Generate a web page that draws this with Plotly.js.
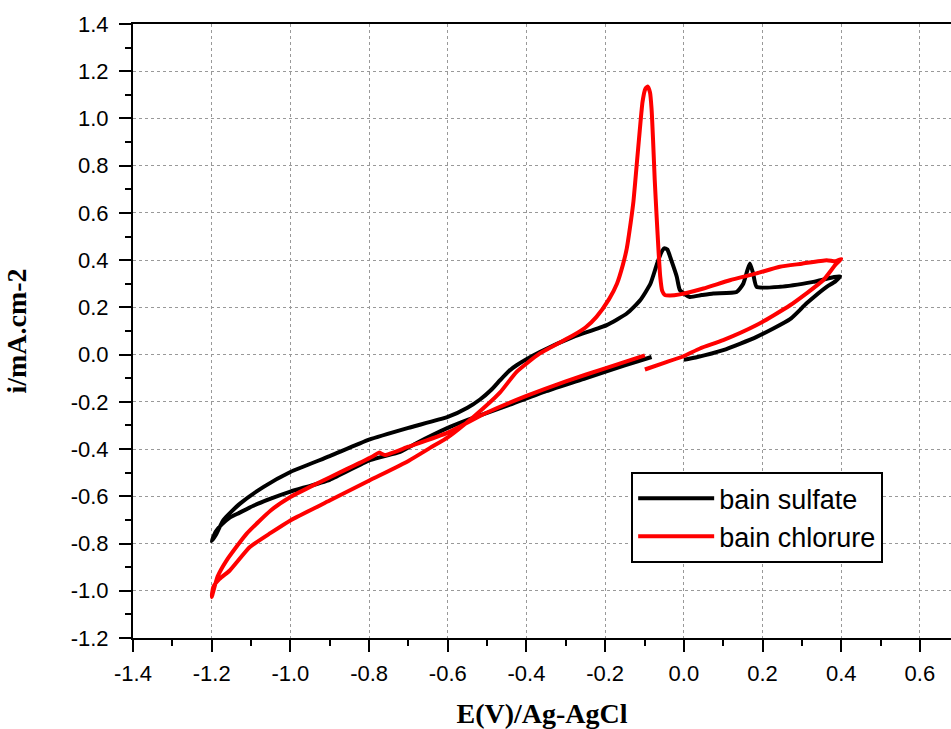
<!DOCTYPE html>
<html>
<head>
<meta charset="utf-8">
<script src="https://cdn.plot.ly/plotly-3.0.1.min.js"></script>
<style>html,body{margin:0;padding:0;background:#fff;}#chart{width:951px;height:729px;}</style>
</head>
<body>
<div id="chart"></div>
<script>
// bain sulfate (black) — potential E (V) and current i (mA.cm-2), in scan order
const sulfateE = [-0.082,-0.15,-0.25,-0.35,-0.442,-0.548,-0.60,-0.68,-0.721,-0.798,-0.90,-1.0,-1.05,-1.094,-1.13,-1.154,-1.175,-1.19,-1.2,
  -1.19,-1.17,-1.128,-1.069,-1.0,-0.9,-0.8,-0.7,-0.6,-0.55,-0.518,-0.49,-0.467,-0.445,-0.425,-0.366,-0.281,-0.196,-0.145,-0.111,-0.085,-0.069,-0.058,-0.05,-0.042,-0.032,-0.018,-0.01,0.015,0.045,0.075,0.134,0.151,0.162,0.168,0.176,0.185,0.244,0.329,0.397,
  0.385,0.363,0.312,0.27,0.185,0.1,0.03,0.0];
const sulfateI = [-0.010,-0.045,-0.10,-0.155,-0.212,-0.275,-0.31,-0.375,-0.412,-0.447,-0.53,-0.58,-0.61,-0.64,-0.67,-0.69,-0.72,-0.75,-0.79,
  -0.765,-0.70,-0.631,-0.561,-0.497,-0.43,-0.36,-0.31,-0.264,-0.225,-0.19,-0.15,-0.108,-0.07,-0.045,0.011,0.075,0.125,0.174,0.23,0.30,0.38,0.43,0.45,0.445,0.40,0.33,0.273,0.244,0.252,0.259,0.265,0.30,0.36,0.386,0.344,0.287,0.287,0.308,0.332,
  0.31,0.287,0.217,0.15,0.075,0.019,-0.012,-0.022];

// bain chlorure (red)
const chlorureE = [-0.099,-0.2,-0.3,-0.4,-0.5,-0.6,-0.7,-0.76,-0.775,-0.79,-0.857,-0.95,-1.0,-1.05,-1.111,-1.162,-1.185,-1.2,
  -1.196,-1.18,-1.154,-1.103,-1.05,-1.0,-0.899,-0.798,-0.7,-0.645,-0.599,-0.535,-0.467,-0.425,-0.366,-0.281,-0.25,-0.222,-0.19,-0.17,-0.155,-0.145,-0.135,-0.128,-0.12,-0.112,-0.105,-0.098,-0.092,-0.086,-0.082,-0.078,-0.074,-0.069,-0.064,-0.06,-0.055,-0.048,-0.035,-0.01,0.05,0.117,0.185,0.244,0.3,0.363,0.385,0.4,
  0.385,0.354,0.27,0.185,0.1,0.041,-0.001,-0.05,-0.099];
const chlorureI = [-0.003,-0.058,-0.113,-0.175,-0.245,-0.33,-0.39,-0.425,-0.415,-0.43,-0.485,-0.56,-0.603,-0.66,-0.758,-0.871,-0.94,-1.027,
  -0.984,-0.95,-0.914,-0.815,-0.755,-0.702,-0.617,-0.532,-0.45,-0.395,-0.349,-0.264,-0.16,-0.073,0.005,0.082,0.115,0.16,0.235,0.30,0.38,0.45,0.56,0.65,0.80,0.95,1.07,1.125,1.135,1.11,1.04,0.90,0.74,0.58,0.43,0.33,0.27,0.252,0.250,0.255,0.28,0.315,0.344,0.372,0.385,0.40,0.395,0.405,
  0.38,0.315,0.209,0.125,0.061,0.026,-0.007,-0.035,-0.063];

const seriesNames = ["bain sulfate", "bain chlorure"];
const xTickVals = [-1.4,-1.2,-1.0,-0.8,-0.6,-0.4,-0.2,0.0,0.2,0.4,0.6];
const xTickText = ["-1.4","-1.2","-1.0","-0.8","-0.6","-0.4","-0.2","0.0","0.2","0.4","0.6"];
const yTickVals = [-1.2,-1.0,-0.8,-0.6,-0.4,-0.2,0.0,0.2,0.4,0.6,0.8,1.0,1.2,1.4];
const yTickText = ["-1.2","-1.0","-0.8","-0.6","-0.4","-0.2","0.0","0.2","0.4","0.6","0.8","1.0","1.2","1.4"];

const traces = [
  {x: sulfateE, y: sulfateI, name: seriesNames[0], type: "scatter", mode: "lines",
   line: {color: "#000000", width: 4, shape: "spline", smoothing: 0.5}},
  {x: chlorureE, y: chlorureI, name: seriesNames[1], type: "scatter", mode: "lines",
   line: {color: "#ff0000", width: 4, shape: "spline", smoothing: 0.5}}
];

const axisCommon = {
  showline: true, linecolor: "#000", linewidth: 2,
  ticks: "outside", ticklen: 12, tickwidth: 2, tickcolor: "#000",
  showgrid: true, gridcolor: "#999", gridwidth: 1, griddash: "dot",
  zeroline: false,
  tickfont: {family: "Liberation Sans, Arial, sans-serif", size: 22, color: "#000"},
  tickmode: "array"
};

const layout = {
  width: 951, height: 729,
  margin: {l: 133, r: 0, t: 24, b: 91},
  paper_bgcolor: "#fff", plot_bgcolor: "#fff",
  showlegend: true,
  xaxis: Object.assign({}, axisCommon, {
    range: [-1.4, 0.679], tickvals: xTickVals, ticktext: xTickText, mirror: true,
    ticklabelstandoff: 3,
    minor: {tickmode: "linear", tick0: 0, dtick: 0.1, ticks: "outside", ticklen: 6, tickwidth: 2, tickcolor: "#000", showgrid: false},
    title: {text: "E(V)/Ag-AgCl", standoff: 20, font: {family: "Liberation Serif, Times New Roman, serif", size: 28, color: "#000", weight: "bold"}}
  }),
  yaxis: Object.assign({}, axisCommon, {
    range: [-1.2, 1.4], tickvals: yTickVals, ticktext: yTickText, mirror: false,
    ticklabelstandoff: 6,
    minor: {tickmode: "linear", tick0: 0, dtick: 0.1, ticks: "outside", ticklen: 6, tickwidth: 2, tickcolor: "#000", showgrid: false},
    title: {text: "i/mA.cm-2", standoff: 36, font: {family: "Liberation Serif, Times New Roman, serif", size: 28, color: "#000", weight: "bold"}}
  }),
  legend: {
    x: 0.609, y: 0.270, xanchor: "left", yanchor: "top",
    bgcolor: "#fff", bordercolor: "#000", borderwidth: 2,
    font: {family: "Liberation Sans, Arial, sans-serif", size: 27, color: "#000"},
    itemwidth: 76, tracegroupgap: 0
  }
};

Plotly.newPlot("chart", traces, layout, {staticPlot: true, displayModeBar: false});
</script>
</body>
</html>
